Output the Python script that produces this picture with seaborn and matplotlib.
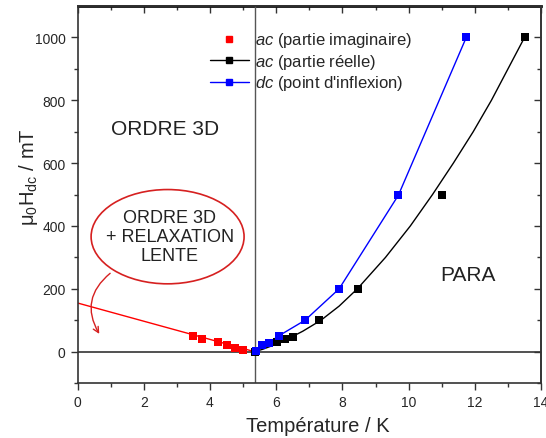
import numpy as np
import pandas as pd
import matplotlib
matplotlib.use('Agg')
import matplotlib.pyplot as plt
from matplotlib.lines import Line2D
from matplotlib.patches import Ellipse
import seaborn as sns

# data
t_imag = [3.50, 3.75, 4.25, 4.50, 4.76, 5.00]
h_imag = [49, 41, 30, 22, 11, 4]
t_imag_line = [0.0, 5.35]
h_imag_line = [155, 0]

t_real = [5.35, 6.02, 6.27, 6.52, 7.28, 8.47, 11.0, 13.5]
h_real = [0, 30, 39, 47, 100, 200, 498, 1000]
# smooth black curve (fit)
t_real_fit = [5.35, 5.6, 5.9, 6.3, 6.8, 7.35, 7.9, 8.45, 9.3, 10.05, 10.72,
              11.35, 11.95, 12.5, 13.0, 13.5]
h_real_fit = [0, 8, 20, 38, 65, 100, 145, 200, 300, 400, 500,
              600, 700, 800, 900, 1000]

t_dc = [5.40, 5.56, 5.77, 6.07, 6.87, 7.90, 9.69, 11.74]
h_dc = [2, 20, 28, 50, 100, 200, 498, 1000]

t_c = 5.35

sns.set_style('ticks')
plt.rcParams['font.family'] = ['Liberation Sans', 'DejaVu Sans']
plt.rcParams['mathtext.fontset'] = 'custom'
plt.rcParams['mathtext.rm'] = 'Liberation Sans'
plt.rcParams['mathtext.it'] = 'Liberation Sans:italic'

fig = plt.figure(figsize=(5.46, 4.39), dpi=100)
ax = fig.add_axes([0.142, 0.125, 0.849, 0.859])

ax.axvline(t_c, color='#555555', lw=1, zorder=1)
ax.axhline(0, color='#333333', lw=1.2, zorder=1)

sns.lineplot(x=t_imag_line, y=h_imag_line, color='red', lw=1, ax=ax, sort=False)
sns.lineplot(x=t_real_fit, y=h_real_fit, color='black', lw=1, ax=ax, sort=False)
sns.lineplot(x=t_dc, y=h_dc, color='blue', lw=1, ax=ax, sort=False)
sns.scatterplot(x=t_imag, y=h_imag, color='red', marker='s', s=28, linewidth=0, ax=ax, zorder=5)
sns.scatterplot(x=t_real, y=h_real, color='black', marker='s', s=28, linewidth=0, ax=ax, zorder=5)
sns.scatterplot(x=t_dc, y=h_dc, color='blue', marker='s', s=28, linewidth=0, ax=ax, zorder=6)

ax.set_xlim(0, 14)
ax.set_ylim(-100, 1100)
xmaj, xmin = np.arange(0, 15, 2), np.arange(1, 14, 2)
ymaj, ymin = np.arange(0, 1001, 200), np.arange(-100, 1100, 200)
ax.set_xticks(xmaj)
ax.set_xticks(xmin, minor=True)
ax.set_yticks(ymaj)
ax.set_yticks(ymin, minor=True)
ax.tick_params(which='both', direction='out', labelsize=10, color='#333333', width=1)
ax.tick_params(which='major', length=5)
ax.tick_params(which='minor', length=3)

# mirrored ticks pointing inward on top and right
top = ax.secondary_xaxis('top')
top.set_xticks(xmaj)
top.set_xticks(xmin, minor=True)
right = ax.secondary_yaxis('right')
right.set_yticks(ymaj)
right.set_yticks(ymin, minor=True)
for sec in (top, right):
    sec.tick_params(which='both', direction='in', labelleft=False, labelright=False,
                    labeltop=False, labelbottom=False, color='#333333', width=1)
    sec.tick_params(which='major', length=5)
    sec.tick_params(which='minor', length=3)
    for s in sec.spines.values():
        s.set_color('#333333')
        s.set_linewidth(1.2)
top.spines['top'].set_linewidth(2)
top.spines['top'].set_color('#111111')

for s in ax.spines.values():
    s.set_color('#333333')
    s.set_linewidth(1.2)

ax.set_xlabel('Température / K', fontsize=14.5)
ax.set_ylabel('μ$_0$H$_\\mathrm{dc}$ / mT', fontsize=14.5)
ax.xaxis.set_label_coords(0.518, -0.088)
ax.yaxis.set_label_coords(-0.081, 0.55)

handles = [
    Line2D([], [], color='red', marker='s', ms=5, lw=0),
    Line2D([], [], color='black', marker='s', ms=5, lw=1),
    Line2D([], [], color='blue', marker='s', ms=5, lw=1),
]
labels = ['$\\it{ac}$ (partie imaginaire)', '$\\it{ac}$ (partie réelle)',
          '$\\it{dc}$ (point d\'inflexion)']
ax.legend(handles, labels, loc='upper left', bbox_to_anchor=(0.254, 0.975),
          frameon=False, fontsize=12, handlelength=2.3, handletextpad=0.4,
          labelspacing=0.15)

ax.text(2.65, 711, 'ORDRE 3D', fontsize=15, ha='center', va='center', color='#222222')
ax.text(11.8, 245, 'PARA', fontsize=15, ha='center', va='center', color='#222222')

ax.add_patch(Ellipse((2.72, 366), 4.62, 300, fill=False, edgecolor='#d62020', lw=1.2))
ax.text(2.78, 366, 'ORDRE 3D\n+ RELAXATION\nLENTE', fontsize=13, ha='center',
        va='center', color='#222222', linespacing=1.15)
ax.annotate('', xy=(0.7, 49), xytext=(1.05, 255),
            arrowprops=dict(arrowstyle='->', color='#d62020', lw=1,
                            connectionstyle='arc3,rad=0.45'))

fig.savefig('out.png', dpi=100)
